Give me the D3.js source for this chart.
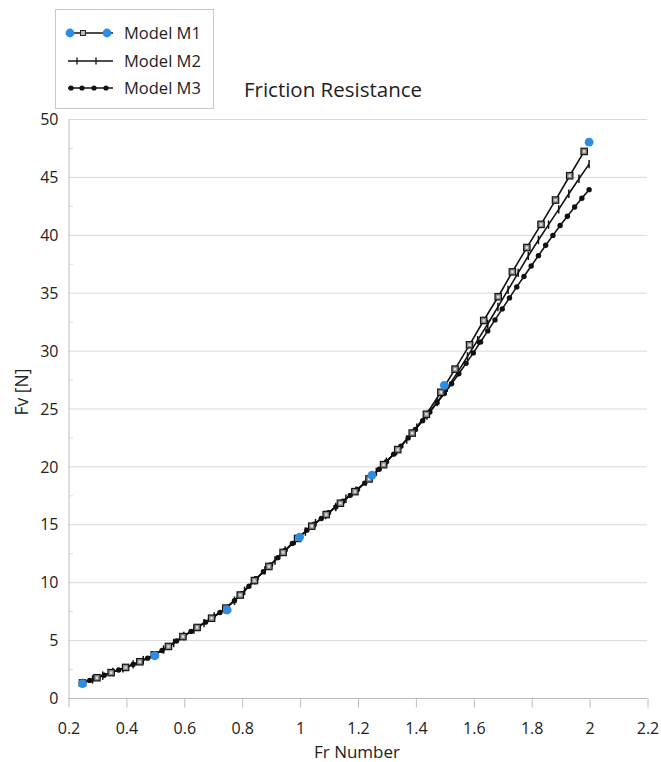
<!DOCTYPE html>
<html>
<head>
<meta charset="utf-8">
<script src="https://cdn.jsdelivr.net/npm/d3@7"></script>
<style>
  html, body { margin: 0; padding: 0; background: #fff; }
  svg { display: block; }
  text { font-family: "Open Sans", "Noto Sans", sans-serif; fill: #222; }
</style>
</head>
<body>
<svg id="chart" width="661" height="762"></svg>
<script>
// ---- data ---------------------------------------------------------------
// Model M1: measured points (blue dots)
const m1TestFr = [0.25, 0.5, 0.75, 1.0, 1.25, 1.5, 2.0];
const m1TestFv = [1.25, 3.65, 7.6, 13.9, 19.25, 27.0, 48.0];

// Model M1: curve (square markers)
const m1Fr = [0.250, 0.300, 0.349, 0.399, 0.448, 0.498, 0.547, 0.597, 0.646, 0.696,
              0.745, 0.795, 0.844, 0.894, 0.943, 0.993, 1.042, 1.092, 1.141, 1.191,
              1.240, 1.290, 1.339, 1.389, 1.438, 1.488, 1.537, 1.587, 1.636, 1.686,
              1.735, 1.785, 1.834, 1.884, 1.933, 1.983];
const m1Fv = [1.3, 1.75, 2.19, 2.64, 3.13, 3.73, 4.45, 5.3, 6.09, 6.89,
              7.76, 8.89, 10.14, 11.36, 12.57, 13.78, 14.84, 15.84, 16.82, 17.82,
              18.92, 20.15, 21.45, 22.88, 24.5, 26.4, 28.4, 30.5, 32.6, 34.65,
              36.8, 38.9, 40.9, 43.0, 45.1, 47.2];

// Model M2: curve (tick markers)
const m2Fr = [0.250, 0.285, 0.320, 0.355, 0.390, 0.425, 0.460, 0.495, 0.530, 0.565,
              0.600, 0.635, 0.670, 0.705, 0.740, 0.775, 0.810, 0.845, 0.880, 0.915,
              0.950, 0.985, 1.020, 1.055, 1.090, 1.125, 1.160, 1.195, 1.230, 1.265,
              1.300, 1.335, 1.370, 1.405, 1.440, 1.475, 1.510, 1.545, 1.580, 1.615,
              1.650, 1.685, 1.720, 1.755, 1.790, 1.825, 1.860, 1.895, 1.930, 1.965, 2.000];
const m2Fv = [1.3, 1.61, 1.93, 2.24, 2.56, 2.9, 3.27, 3.69, 4.18, 4.75,
              5.35, 5.91, 6.47, 7.04, 7.66, 8.4, 9.26, 10.17, 11.02, 11.87,
              12.75, 13.59, 14.37, 15.1, 15.8, 16.5, 17.2, 17.9, 18.69, 19.52,
              20.4, 21.33, 22.32, 23.35, 24.4, 25.55, 26.78, 28.1, 29.5, 30.9,
              32.3, 33.77, 35.24, 36.71, 38.18, 39.55, 40.88, 42.2, 43.54, 44.84, 46.1];

// Model M3: curve (dot markers)
const m3Fr = [0.250, 0.275, 0.300, 0.325, 0.350, 0.375, 0.400, 0.425, 0.450, 0.475,
              0.500, 0.525, 0.550, 0.575, 0.600, 0.625, 0.650, 0.675, 0.700, 0.725,
              0.750, 0.775, 0.800, 0.825, 0.850, 0.875, 0.900, 0.925, 0.950, 0.975,
              1.000, 1.025, 1.050, 1.075, 1.100, 1.125, 1.150, 1.175, 1.200, 1.225,
              1.250, 1.275, 1.300, 1.325, 1.350, 1.375, 1.400, 1.425, 1.450, 1.475,
              1.500, 1.525, 1.550, 1.575, 1.600, 1.625, 1.650, 1.675, 1.700, 1.725,
              1.750, 1.775, 1.800, 1.825, 1.850, 1.875, 1.900, 1.925, 1.950, 1.975, 2.000];
const m3Fv = [1.3, 1.52, 1.75, 1.97, 2.2, 2.42, 2.65, 2.9, 3.15, 3.44,
              3.75, 4.1, 4.5, 4.92, 5.35, 5.75, 6.15, 6.55, 6.95, 7.38,
              7.85, 8.4, 9.0, 9.65, 10.3, 10.9, 11.5, 12.12, 12.75, 13.35,
              13.95, 14.48, 15.0, 15.5, 16.0, 16.5, 17.0, 17.5, 18.0, 18.56,
              19.15, 19.76, 20.4, 21.06, 21.75, 22.46, 23.2, 23.95, 24.7, 25.5,
              26.3, 27.14, 28.0, 28.9, 29.8, 30.74, 31.7, 32.65, 33.6, 34.55,
              35.5, 36.4, 37.3, 38.2, 39.1, 39.95, 40.8, 41.6, 42.4, 43.15, 43.9];

const xTicks = [0.2, 0.4, 0.6, 0.8, 1, 1.2, 1.4, 1.6, 1.8, 2, 2.2];
const yTicks = [0, 5, 10, 15, 20, 25, 30, 35, 40, 45, 50];
const yMinorTicks = [2.5, 7.5, 12.5, 17.5, 22.5, 27.5, 32.5, 37.5, 42.5, 47.5];
const legendLabels = ["Model M1", "Model M2", "Model M3"];
const chartTitle = "Friction Resistance";
const xTitle = "Fr Number";
const yTitle = "Fv [N]";

// ---- layout -------------------------------------------------------------
const svg = d3.select("#chart");
const plotLeft = 68, plotRight = 647, plotTop = 119, plotBottom = 698;
const x = d3.scaleLinear().domain([0.2, 2.2]).range([plotLeft, plotRight]);
const y = d3.scaleLinear().domain([0, 50]).range([plotBottom, plotTop]);
const blue = "#2f8ce3";
const axisGray = "#bdbdbd";
const gridGray = "#d9d9d9";
const labelColor = "#404040";

// gridlines
svg.append("g").selectAll("line").data(yTicks.filter(d => d > 0)).join("line")
  .attr("x1", plotLeft).attr("x2", plotRight)
  .attr("y1", d => y(d) + 0.5).attr("y2", d => y(d) + 0.5)
  .attr("stroke", gridGray).attr("stroke-width", 1);

// y axis (left) with labels and minor ticks
const yAxis = d3.axisLeft(y).tickValues(yTicks).tickSize(0).tickPadding(10)
  .tickFormat(d3.format("d"));
const gy = svg.append("g").attr("transform", `translate(${plotLeft + 0.5},0.5)`).call(yAxis);
gy.select(".domain").attr("stroke", axisGray);
gy.selectAll("text").attr("font-size", 16).attr("fill", labelColor)
  .style("font-family", '"Open Sans", sans-serif');
svg.append("g").selectAll("line").data(yMinorTicks).join("line")
  .attr("x1", plotLeft).attr("x2", plotLeft + 5)
  .attr("y1", d => y(d) + 0.5).attr("y2", d => y(d) + 0.5)
  .attr("stroke", gridGray);

// x axis (bottom)
const xAxis = d3.axisBottom(x).tickValues(xTicks).tickSize(9).tickPadding(15)
  .tickFormat(d => d3.format("")(d));
const gx = svg.append("g").attr("transform", `translate(0.5,${plotBottom + 0.5})`).call(xAxis);
gx.select(".domain").attr("stroke", axisGray).attr("d", `M${plotLeft - 0.5},0H${plotRight}`);
gx.selectAll(".tick line").attr("stroke", axisGray);
gx.selectAll("text").attr("font-size", 16).attr("fill", labelColor)
  .style("font-family", '"Open Sans", sans-serif');

// axis titles and chart title
svg.append("text").attr("x", 357).attr("y", 758).attr("text-anchor", "middle")
  .attr("font-size", 17).attr("fill", labelColor).text(xTitle);
svg.append("text").attr("transform", "translate(28,392) rotate(-90)")
  .attr("text-anchor", "middle").attr("font-size", 17.5).attr("fill", labelColor).text(yTitle);
svg.append("text").attr("x", 333).attr("y", 97).attr("text-anchor", "middle")
  .attr("font-size", 20.5).text(chartTitle);

// ---- series -------------------------------------------------------------
const line = d3.line().x(d => x(d[0])).y(d => y(d[1]));
const zip = (a, b) => a.map((v, i) => [v, b[i]]);
const m1 = zip(m1Fr, m1Fv), m2 = zip(m2Fr, m2Fv), m3 = zip(m3Fr, m3Fv);
const m1Test = zip(m1TestFr, m1TestFv);

const plot = svg.append("g");

function drawSeries(data, marker) {
  plot.append("path").datum(data).attr("d", line)
    .attr("fill", "none").attr("stroke", "#111").attr("stroke-width", 1.6);
  const g = plot.append("g");
  marker(g.selectAll("g").data(data).join("g")
    .attr("transform", d => `translate(${x(d[0])},${y(d[1])})`));
}

const squareMarker = sel => {
  sel.append("rect")
    .attr("x", -3.2).attr("y", -3.2).attr("width", 6.4).attr("height", 6.4)
    .attr("fill", "#8a8a8a").attr("stroke", "#151515").attr("stroke-width", 1.2);
  sel.append("rect")
    .attr("x", -1.2).attr("y", -1.2).attr("width", 2.4).attr("height", 2.4)
    .attr("fill", "#e0e0e0");
};
const tickMarker = sel => sel.append("line")
  .attr("x1", 0).attr("x2", 0).attr("y1", -4.2).attr("y2", 4.2)
  .attr("stroke", "#111").attr("stroke-width", 1.5);
const dotMarker = sel => sel.append("circle").attr("r", 2.7).attr("fill", "#111");

drawSeries(m3, dotMarker);
drawSeries(m2, tickMarker);
drawSeries(m1, squareMarker);

plot.append("g").selectAll("circle").data(m1Test).join("circle")
  .attr("cx", d => x(d[0])).attr("cy", d => y(d[1])).attr("r", 4.4)
  .attr("fill", blue);

// ---- legend -------------------------------------------------------------
const lg = svg.append("g");
lg.append("rect").attr("x", 55.5).attr("y", 9.5).attr("width", 158).attr("height", 99)
  .attr("fill", "#fff").attr("stroke", "#c8c8c8");
const rowY = [33, 61, 88];
const lx0 = 68, lx1 = 113;
legendLabels.forEach((label, i) => {
  const yy = rowY[i];
  lg.append("line").attr("x1", lx0).attr("x2", lx1).attr("y1", yy).attr("y2", yy)
    .attr("stroke", "#111").attr("stroke-width", 1.5);
  lg.append("text").attr("x", 124).attr("y", yy + 5.8).attr("font-size", 16.5)
    .attr("fill", "#2a2a2a").text(label);
});
// M1 legend symbol
[70, 107].forEach(cx => lg.append("circle").attr("cx", cx).attr("cy", rowY[0]).attr("r", 4.4).attr("fill", blue));
lg.append("rect").attr("x", 80.5).attr("y", rowY[0] - 2.5).attr("width", 5).attr("height", 5)
  .attr("fill", "#bbb").attr("stroke", "#222");
// M2 legend symbol
[77, 96].forEach(cx => lg.append("line").attr("x1", cx).attr("x2", cx)
  .attr("y1", rowY[1] - 3.5).attr("y2", rowY[1] + 3.5).attr("stroke", "#111").attr("stroke-width", 1.3));
// M3 legend symbol
[71, 82, 94, 106].forEach(cx => lg.append("circle").attr("cx", cx).attr("cy", rowY[2]).attr("r", 2.6).attr("fill", "#111"));
</script>
</body>
</html>
